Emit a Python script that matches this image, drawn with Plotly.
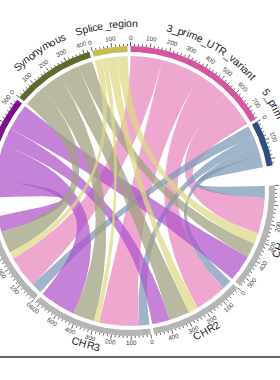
import numpy as np
import plotly.graph_objects as go

# ---------------- data ----------------
sources = ["3_prime_UTR_variant", "5_prime_UTR_variant", "Missense_variant", "Synonymous", "Splice_region"]
targets = ["CHR1", "CHR2", "CHR3", "CHR4"]
# link sizes (source -> CHR1, CHR2, CHR3, CHR4)
links_3prime = [196, 177, 218, 175]
links_5prime = [66, 52, 57, 60]
links_missense = [147, 97, 199, 90]
links_synonymous = [79, 113, 118, 118]
links_splice = [60, 53, 29, 38]
sector_order = ["3_prime_UTR_variant", "5_prime_UTR_variant", "CHR1", "CHR2", "CHR3", "CHR4",
                "Missense_variant", "Synonymous", "Splice_region"]

# ---------------- style ----------------
ring_colors = {
    "3_prime_UTR_variant": "#D6559F",
    "5_prime_UTR_variant": "#2E4E7E",
    "Missense_variant": "#7B108D",
    "Synonymous": "#5E6A2B",
    "Splice_region": "#C8BB50",
    "CHR1": "#B5B5B5", "CHR2": "#B5B5B5", "CHR3": "#B5B5B5", "CHR4": "#B5B5B5",
}
chord_colors = {
    "3_prime_UTR_variant": "rgba(232,138,192,0.74)",
    "5_prime_UTR_variant": "rgba(126,152,184,0.74)",
    "Missense_variant": "rgba(176,86,203,0.74)",
    "Synonymous": "rgba(160,160,130,0.74)",
    "Splice_region": "rgba(222,216,134,0.74)",
}
gap_after = {s: 1.2 for s in sector_order}
gap_after["5_prime_UTR_variant"] = 8.0
gap_after["CHR4"] = 8.0
START = 89.8
RO, RI, RC = 145, 139, 135
CY = 191  # pixel row of the circle centre
CX = 130  # pixel column of the circle centre
R_NAME = 163
FONT = "Arial, Liberation Sans, sans-serif"

matrix = dict(zip(sources, [links_3prime, links_5prime, links_missense, links_synonymous, links_splice]))

sizes = {}
for s in sources:
    sizes[s] = sum(matrix[s])
for j, t in enumerate(targets):
    sizes[t] = sum(matrix[s][j] for s in sources)

total = sum(sizes[n] for n in sector_order)
dpu = (360 - sum(gap_after.values())) / total

sec = {}
th = START
for n in sector_order:
    a0 = th
    a1 = th - sizes[n] * dpu
    sec[n] = (a0, a1)
    th = a1 - gap_after[n]

# link end positions
src_rng = {}
for s in sources:
    p = sec[s][0]
    for t in reversed(targets):
        v = matrix[s][targets.index(t)]
        src_rng[(s, t)] = (p, p - v * dpu)
        p -= v * dpu
tgt_src_order = ["5_prime_UTR_variant", "3_prime_UTR_variant", "Splice_region", "Synonymous", "Missense_variant"]
tgt_rng = {}
for j, t in enumerate(targets):
    p = sec[t][0]
    for s in tgt_src_order:
        v = matrix[s][j]
        tgt_rng[(s, t)] = (p, p - v * dpu)
        p -= v * dpu


def arc(r, a0, a1):
    n = max(3, int(abs(a1 - a0) / 0.4) + 2)
    t = np.radians(np.linspace(a0, a1, n))
    return list(r * np.cos(t)), list(r * np.sin(t))


def pt(r, a):
    return np.array([r * np.cos(np.radians(a)), r * np.sin(np.radians(a))])


def bez(p0, p1, n=60):
    t = np.linspace(0, 1, n)[:, None]
    pts = (1 - t) ** 2 * p0 + t ** 2 * p1
    return list(pts[:, 0]), list(pts[:, 1])


fig = go.Figure()

# chords
for s in sources:
    for t in targets:
        s0, s1 = src_rng[(s, t)]
        t0, t1 = tgt_rng[(s, t)]
        xs, ys = [], []
        ax, ay = arc(RC, s0, s1); xs += ax; ys += ay
        bx, by = bez(pt(RC, s1), pt(RC, t0)); xs += bx; ys += by
        ax, ay = arc(RC, t0, t1); xs += ax; ys += ay
        bx, by = bez(pt(RC, t1), pt(RC, s0)); xs += bx; ys += by
        fig.add_trace(go.Scatter(x=xs, y=ys, mode="lines", fill="toself",
                                 fillcolor=chord_colors[s], line=dict(width=0),
                                 hoverinfo="skip"))

# rings
for n in sector_order:
    a0, a1 = sec[n]
    ox, oy = arc(RO, a0, a1)
    ix, iy = arc(RI, a1, a0)
    fig.add_trace(go.Scatter(x=ox + ix + [ox[0]], y=oy + iy + [oy[0]], mode="lines",
                             fill="toself", fillcolor=ring_colors[n],
                             line=dict(width=0), hoverinfo="skip"))

# ticks
tx, ty = [], []
annotations = []
for n in sector_order:
    a0, a1 = sec[n]
    for v in range(0, sizes[n] + 1, 20):
        a = a0 - v * dpu
        L = 4 if v % 100 == 0 else 2
        p1 = pt(RO, a); p2 = pt(RO + L, a)
        tx += [p1[0], p2[0], None]; ty += [p1[1], p2[1], None]
        if v % 100 == 0:
            top = np.sin(np.radians(a)) > 0
            q = pt(154 if top else 152, a)
            ang = 90 - a if top else -a - 90
            annotations.append(dict(x=q[0], y=q[1], text=str(v), showarrow=False,
                                    xanchor="center", yanchor="middle", textangle=ang,
                                    font=dict(size=6.3, color="#3a3a3a", family=FONT)))
fig.add_trace(go.Scatter(x=tx, y=ty, mode="lines", line=dict(color="#222222", width=0.7),
                         hoverinfo="skip"))

# sector names, bent along the circle
W = {'0': .556, '1': .556, '2': .556, '3': .556, '4': .556, '5': .556, '_': .556,
     'a': .556, 'c': .5, 'd': .556, 'e': .556, 'g': .556, 'i': .222, 'l': .222, 'm': .833,
     'n': .556, 'o': .556, 'p': .556, 'r': .333, 's': .5, 't': .278, 'u': .556, 'v': .5,
     'y': .5, 'C': .722, 'H': .722, 'R': .722, 'S': .667, 'U': .722, 'T': .611, 'M': .833}
FS = 10.5
for n in sector_order:
    a0, a1 = sec[n]
    mid = (a0 + a1) / 2
    widths = [W.get(c, .556) * FS for c in n]
    tot = sum(widths)
    top = np.sin(np.radians(mid)) > 0
    r = R_NAME + 5 if top else R_NAME - 4
    pos = -tot / 2
    for c, w in zip(n, widths):
        off = pos + w / 2
        pos += w
        a = mid - np.degrees(off / r) if top else mid + np.degrees(off / r)
        q = pt(r, a)
        ang = 90 - a if top else -a - 90
        annotations.append(dict(x=q[0], y=q[1], text=c, showarrow=False,
                                xanchor="center", yanchor="middle", textangle=ang,
                                font=dict(size=FS, color="#222222", family=FONT)))

fig.update_layout(
    width=280, height=380, margin=dict(l=0, r=0, t=0, b=0),
    plot_bgcolor="white", paper_bgcolor="white", showlegend=False,
    xaxis=dict(range=[-CX, 280 - CX], visible=False, fixedrange=True),
    yaxis=dict(range=[CY - 380, CY], visible=False, fixedrange=True),
    annotations=annotations,
    shapes=[dict(type="line", xref="paper", yref="y", x0=0, x1=1, y0=CY - 357, y1=CY - 357,
                 line=dict(color="#333333", width=1.5))],
)
fig.write_html("out.html")
